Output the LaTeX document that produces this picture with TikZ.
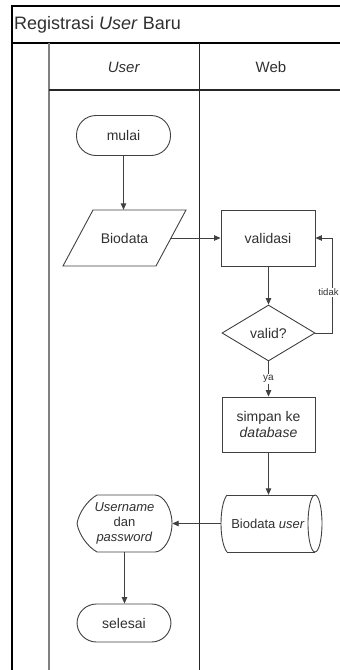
\documentclass[tikz,border=0pt]{standalone}
\usepackage{fontspec}
\setmainfont{Liberation Sans}
\usetikzlibrary{arrows.meta,shapes.geometric,calc}
\definecolor{lc}{HTML}{404040}
\definecolor{tc}{HTML}{303030}
\begin{document}
\begin{tikzpicture}[x=1pt,y=-1pt,
  line/.style={draw=lc, line width=0.9pt},
  arr/.style={line, -{Triangle[length=6.5pt,width=5.5pt]}},
  txt/.style={text=tc, align=center, font=\fontsize{14pt}{16.5pt}\selectfont},
  box/.style={line, txt, rectangle, minimum width=94pt, minimum height=56pt, inner sep=0pt},
  term/.style={box, rounded corners=19.5pt},
  ghost/.style={txt, rectangle, inner sep=0pt, minimum width=94pt, minimum height=57pt},
  dec/.style={line, txt, diamond, aspect=1.66, minimum width=93pt, minimum height=56pt, inner sep=0pt},
  lab/.style={fill=white, inner sep=1pt, text=tc, font=\fontsize{10pt}{12pt}\selectfont},
  pool/.style={draw=black, line width=1.2pt}
]
\useasboundingbox (0,0) rectangle (340,670);
% pool frame
\draw[pool] (340,6) -- (12,6) -- (12,670);
\draw[pool] (12,43) -- (340,43);
\draw[draw=gray, line width=1.8pt] (49,43) -- (49,670);
\draw[draw=black!85, line width=1.2pt] (49,90) -- (340,90);
\draw[draw=black!85, line width=1pt] (199,43) -- (199,670);
\node[anchor=west, text=tc, font=\fontsize{18pt}{21pt}\selectfont, inner sep=0pt] (title) at (14,25) {Registrasi \textit{User} Baru};
\node[txt, font=\fontsize{15pt}{18pt}\selectfont] (laneuser) at (124,67) {\textit{User}};
\node[txt, font=\fontsize{15pt}{18pt}\selectfont] (laneweb) at (271,67) {Web};

% nodes
\node[term, minimum height=40pt] (mulai) at (123.5,135.5) {mulai};
\node[ghost, minimum width=93pt, minimum height=56pt] (bio) at (124.5,238) {Biodata};
\draw[line] (93,210) -- (186,210) -- (156,266) -- (63,266) -- cycle;
\node[box] (val) at (268,238) {validasi};
\node[dec] (dia) at (268.5,333) {valid?};
\node[box, minimum width=93pt, minimum height=55pt] (simpan) at (268.5,424.5) {simpan ke\\\textit{database}};
\node[ghost, font=\fontsize{13pt}{15pt}\selectfont] (db) at (268,523.5) {Biodata \textit{user}};
\draw[line] (227,495) -- (315,495);
\draw[line] (227,552) -- (315,552);
\draw[line] (227,495) .. controls (219,505) and (219,542) .. (227,552);
\draw[line] (315,523.5) ellipse [x radius=7pt, y radius=28.5pt];
\node[ghost, minimum width=95pt, font=\fontsize{13pt}{15pt}\selectfont] (disp) at (124.5,523.5) {\textit{Username}\\dan\\\textit{password}};
\draw[line] (97,495) -- (155,495)
  .. controls (163.3,495) and (172,507.8) .. (172,523.5)
  .. controls (172,539.2) and (163.3,552) .. (155,552)
  -- (97,552)
  .. controls (88,547) and (79,535) .. (77,523.5)
  .. controls (79,512) and (88,500) .. (97,495) -- cycle;
\node[term, minimum height=38pt] (selesai) at (124,623) {selesai};

% connectors
\draw[arr] (mulai) -- (mulai.south |- bio.north);
\draw[arr] (bio.east) -- (val.west);
\draw[arr] (val.south -| dia.north) -- (dia.north);
\coordinate (lp) at (332,333);
\draw[arr] (dia.east) -- (lp) |- node[lab, pos=0.215, xshift=-3.5pt, font=\fontsize{9.5pt}{11pt}\selectfont] {tidak} (val.east);
\draw[arr] (dia.south) -- node[lab, pos=0.5] {ya} (simpan.north);
\draw[arr] (simpan.south) -- (simpan.south |- db.north);
\draw[arr] (db.west) -- (disp.east);
\draw[arr] (disp.south) -- (disp.south |- selesai.north);
\end{tikzpicture}
\end{document}
